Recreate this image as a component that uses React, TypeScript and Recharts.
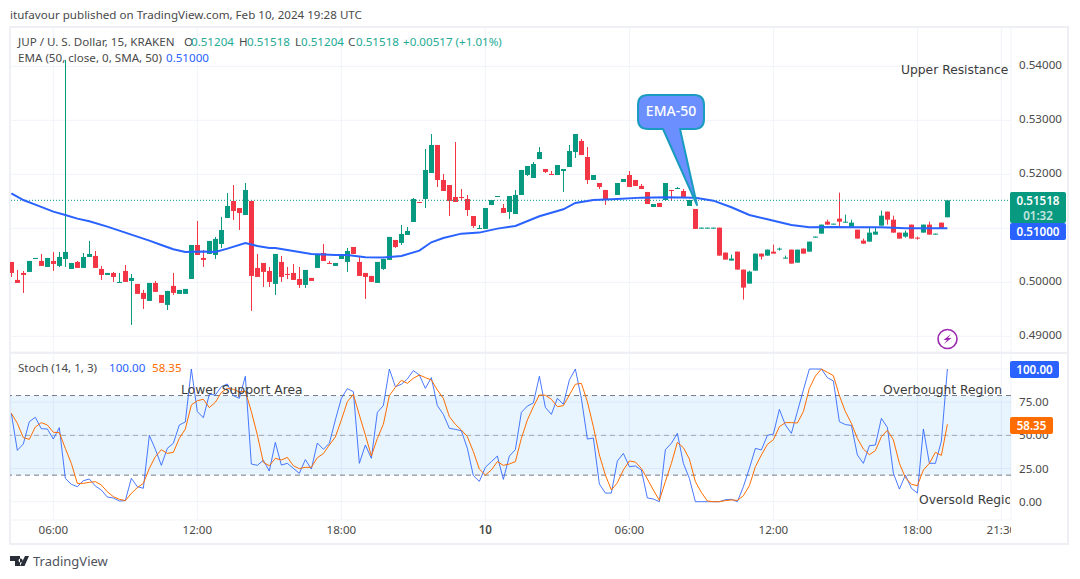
import { Bar, CartesianGrid, ComposedChart, Line, ReferenceArea, ReferenceLine, XAxis, YAxis } from 'recharts'

const FONT = '"Noto Sans", sans-serif'
const FONT_SIZE = 11.6
const UP = '#089981'
const DOWN = '#f23645'
const BLUE = '#2962ff'
const ORANGE = '#ff6d00'
const TEXT = '#4a4a4a'
const GRID = '#f0f3fa'

const opens = [
  0.50377, 0.50044, 0.50173, 0.50192, 0.50432, 0.50395, 0.50284, 0.50395, 0.50303, 0.50432,
  0.50247, 0.50377, 0.50266, 0.50469, 0.50488, 0.50247, 0.50136, 0.50173, 0.49988, 0.5021,
  0.50025, 0.4997, 0.49803, 0.49655, 0.49988, 0.49766, 0.49581, 0.49933, 0.49785, 0.49785,
  0.50062, 0.50691, 0.50451, 0.50525, 0.50506, 0.5071, 0.51191, 0.51506, 0.51376, 0.51247,
  0.51506, 0.50266, 0.50358, 0.5021, 0.4997, 0.50377, 0.50155, 0.50173, 0.50062, 0.49951,
  0.50081, 0.50266, 0.50543, 0.50358, 0.50303, 0.50432, 0.50377, 0.50654, 0.50377, 0.50173,
  0.50118, 0.49988, 0.50247, 0.50414, 0.50784, 0.50729, 0.50877, 0.51117, 0.51487, 0.51543,
  0.52024, 0.52543, 0.51895, 0.51802, 0.5158, 0.5158, 0.51543, 0.51228, 0.50988, 0.50988,
  0.51432, 0.5158, 0.51376, 0.51302, 0.51265, 0.51617, 0.51987, 0.51932, 0.52283, 0.52098,
  0.52006, 0.51987, 0.52061, 0.52135, 0.52413, 0.52617, 0.5232, 0.51895, 0.51839, 0.5171,
  0.51524, 0.51617, 0.51858, 0.51987, 0.51895, 0.51784, 0.51673, 0.51395, 0.51469, 0.51524,
  0.5171, 0.51728, 0.51691, 0.51413, 0.51358, 0.50994, 0.50994, 0.50994, 0.51012, 0.5055,
  0.50402, 0.50568, 0.50235, 0.49976, 0.50216, 0.50531, 0.50494, 0.50568, 0.50605, 0.50439,
  0.50605, 0.50364, 0.50624, 0.50568, 0.50827, 0.50901, 0.51123, 0.51068, 0.51179, 0.51105,
  0.51031, 0.50975, 0.50772, 0.50753, 0.50883, 0.51049, 0.51309, 0.5116, 0.5092, 0.50846,
  0.51068, 0.50827, 0.5092, 0.51068, 0.50883, 0.51105, 0.51204,
]

const highs = [
  0.50377, 0.50229, 0.5021, 0.50395, 0.50451, 0.50525, 0.50451, 0.50562, 0.50562, 0.54117,
  0.50358, 0.50395, 0.50543, 0.50766, 0.5058, 0.50303, 0.50173, 0.50192, 0.50173, 0.50321,
  0.50155, 0.4997, 0.49859, 0.49988, 0.50025, 0.49766, 0.4984, 0.50173, 0.49859, 0.49877,
  0.50691, 0.51136, 0.50599, 0.50766, 0.5084, 0.5121, 0.51654, 0.51802, 0.51376, 0.51839,
  0.51506, 0.50525, 0.50358, 0.50284, 0.50525, 0.50488, 0.50284, 0.5034, 0.50284, 0.50229,
  0.50081, 0.50525, 0.5071, 0.50395, 0.50358, 0.50506, 0.50636, 0.50654, 0.50488, 0.50173,
  0.50118, 0.50377, 0.50432, 0.5084, 0.50784, 0.51062, 0.51025, 0.51561, 0.51487, 0.52468,
  0.52746, 0.52543, 0.52006, 0.51802, 0.52598, 0.51728, 0.51617, 0.51228, 0.51062, 0.51376,
  0.51524, 0.51598, 0.5145, 0.51598, 0.5171, 0.5208, 0.52154, 0.52228, 0.52505, 0.52098,
  0.52061, 0.52172, 0.52098, 0.52543, 0.52746, 0.52654, 0.52505, 0.51987, 0.51839, 0.5171,
  0.51543, 0.51839, 0.51913, 0.52061, 0.51895, 0.51821, 0.51673, 0.5145, 0.51469, 0.51839,
  0.5171, 0.51765, 0.51728, 0.51524, 0.51358, 0.51012, 0.51012, 0.51012, 0.51012, 0.5055,
  0.50513, 0.50568, 0.50235, 0.50216, 0.50531, 0.50531, 0.50605, 0.50698, 0.50642, 0.50494,
  0.50605, 0.50605, 0.50624, 0.50753, 0.50846, 0.51068, 0.5116, 0.51086, 0.5166, 0.51253,
  0.5116, 0.50975, 0.50809, 0.51031, 0.51012, 0.51327, 0.51309, 0.51234, 0.5092, 0.50957,
  0.51068, 0.50846, 0.51068, 0.51123, 0.50901, 0.51105, 0.51518,
]

const lows = [
  0.50099, 0.49988, 0.49803, 0.50192, 0.50432, 0.50303, 0.50284, 0.5021, 0.50284, 0.50284,
  0.50247, 0.50266, 0.50266, 0.50469, 0.50266, 0.50044, 0.50136, 0.50007, 0.49988, 0.50007,
  0.49211, 0.49785, 0.49507, 0.49655, 0.49822, 0.49618, 0.49488, 0.49766, 0.49785, 0.49785,
  0.50062, 0.50506, 0.50284, 0.50525, 0.50432, 0.50636, 0.51191, 0.51154, 0.50969, 0.51247,
  0.4947, 0.50099, 0.49914, 0.49914, 0.49766, 0.50007, 0.50062, 0.50044, 0.49896, 0.49896,
  0.50025, 0.50266, 0.50395, 0.5034, 0.50303, 0.50432, 0.50192, 0.50525, 0.50118, 0.49692,
  0.50007, 0.49988, 0.50229, 0.50414, 0.50636, 0.50691, 0.50877, 0.51117, 0.51469, 0.51376,
  0.52024, 0.51765, 0.51691, 0.51228, 0.51487, 0.51506, 0.51228, 0.51006, 0.50988, 0.50988,
  0.51432, 0.5158, 0.51284, 0.51173, 0.51265, 0.51617, 0.51969, 0.51932, 0.52283, 0.52024,
  0.51987, 0.51987, 0.51673, 0.52135, 0.52302, 0.52357, 0.51821, 0.51895, 0.51728, 0.51432,
  0.51524, 0.51617, 0.51858, 0.51765, 0.51784, 0.51728, 0.5145, 0.51395, 0.51395, 0.51506,
  0.51506, 0.51728, 0.5158, 0.51413, 0.50988, 0.50994, 0.50994, 0.50994, 0.50494, 0.5042,
  0.50402, 0.50235, 0.4968, 0.49976, 0.50216, 0.5042, 0.50494, 0.50531, 0.50587, 0.50439,
  0.50346, 0.50364, 0.50531, 0.50568, 0.50827, 0.50901, 0.51068, 0.51068, 0.51012, 0.51105,
  0.51031, 0.50809, 0.50716, 0.50753, 0.50883, 0.51049, 0.51068, 0.5092, 0.50809, 0.50827,
  0.50809, 0.5079, 0.5092, 0.50883, 0.50883, 0.50994, 0.51204,
]

const closes = [
  0.50173, 0.49988, 0.50136, 0.50395, 0.50451, 0.50303, 0.50451, 0.5034, 0.50469, 0.50562,
  0.50358, 0.50266, 0.50469, 0.50525, 0.50266, 0.50136, 0.50173, 0.50099, 0.50007, 0.50007,
  0.50081, 0.49785, 0.49692, 0.49988, 0.49822, 0.49618, 0.4984, 0.49803, 0.49859, 0.49877,
  0.50691, 0.50506, 0.50414, 0.50766, 0.50803, 0.50969, 0.51413, 0.51321, 0.51284, 0.5171,
  0.50118, 0.50099, 0.50192, 0.50007, 0.50525, 0.50099, 0.50136, 0.50044, 0.49951, 0.50229,
  0.50025, 0.50525, 0.50395, 0.5034, 0.50358, 0.50506, 0.5058, 0.50525, 0.50118, 0.50099,
  0.50007, 0.50377, 0.50432, 0.5084, 0.50654, 0.50895, 0.50951, 0.51543, 0.51469, 0.5208,
  0.52543, 0.51895, 0.51691, 0.51506, 0.51487, 0.51561, 0.51339, 0.51043, 0.51006, 0.51376,
  0.51524, 0.51598, 0.51284, 0.51598, 0.51617, 0.5208, 0.52154, 0.52191, 0.52413, 0.52043,
  0.51987, 0.52172, 0.52098, 0.52431, 0.52746, 0.52357, 0.51895, 0.51987, 0.51765, 0.51524,
  0.51543, 0.51839, 0.51913, 0.51765, 0.51784, 0.51728, 0.5145, 0.5145, 0.51395, 0.51839,
  0.51691, 0.51747, 0.5158, 0.51524, 0.50988, 0.51012, 0.51012, 0.51012, 0.50494, 0.5042,
  0.50439, 0.50235, 0.49902, 0.50198, 0.50531, 0.50476, 0.50605, 0.50531, 0.50624, 0.50457,
  0.50346, 0.50605, 0.50531, 0.50753, 0.50846, 0.51068, 0.51068, 0.51086, 0.51123, 0.51123,
  0.51105, 0.50809, 0.50716, 0.5092, 0.50938, 0.51234, 0.5116, 0.5092, 0.50809, 0.5092,
  0.50809, 0.50809, 0.51068, 0.50883, 0.50901, 0.50994, 0.51518,
]

const emaCandles = [
  0, 2, 4, 7, 9, 11, 13, 16, 20, 23, 25, 27, 29, 32, 34, 36, 39, 41, 43, 44, 47, 50, 54, 56, 59, 62, 65, 68, 70, 72, 75,
  78, 81, 84, 88, 92, 94, 97, 101, 105, 109, 114, 117, 120, 123, 126, 130, 133, 137, 141, 145, 149, 153, 156,
]
const emaValues = [
  0.51648, 0.51524, 0.51438, 0.51309, 0.51247, 0.51179, 0.5113, 0.51031, 0.50883, 0.50772, 0.50691, 0.50611, 0.50562,
  0.50568, 0.50562, 0.50624, 0.50729, 0.50673, 0.50636, 0.50636, 0.5058, 0.50525, 0.50506, 0.50506, 0.50463, 0.50457,
  0.50488, 0.50587, 0.50741, 0.50821, 0.50901, 0.5092, 0.50994, 0.51043, 0.51222, 0.51352, 0.51469, 0.51524, 0.51543,
  0.51568, 0.51574, 0.51565, 0.51512, 0.51389, 0.51247, 0.51167, 0.51062, 0.51019, 0.51025, 0.51019, 0.51019, 0.51,
  0.51, 0.51,
]

const stochK = [
  66.6, 38.7, 43.5, 60.3, 63.6, 55, 54.8, 47.2, 55.8, 17.6, 13.1, 11.3, 15.8, 17.1, 11.8, 8.8, 3.5, 2.8, 0.5, 0.8,
  17.6, 11.3, 10.1, 50, 39.5, 27.4, 40.2, 44, 57.8, 60.1, 100, 67.9, 63.3, 80.9, 80.4, 86.7, 88.7, 79.9, 77.9, 94.5,
  28.4, 27.4, 31.2, 23.1, 44.7, 27.6, 28.9, 25.1, 21.4, 31.7, 24.6, 44.2, 39.5, 44, 61.6, 77.9, 85.2, 82.9, 28.9, 42.7,
  32.7, 67.3, 72.4, 100, 86.7, 88.5, 92.5, 98.8, 95.5, 85.4, 93.5, 72.4, 65.8, 55.3, 54.5, 53.5, 40.2, 19.6, 15.3, 25.9,
  30.2, 34.4, 16.8, 34.4, 39.2, 67.3, 72.1, 74.4, 94.5, 71.1, 65.8, 77.9, 73.4, 91.7, 100, 77.9, 47.2, 48, 13.3, 6.5,
  6.5, 30.7, 36.4, 26.4, 26.9, 23.9, 2.8, 2, 0, 39.2, 44, 51.5, 28.9, 17.6, 0, 0, 0, 0, 0, 1.5,
  1.8, 0, 11.3, 25.1, 40.2, 39, 50, 51, 69.6, 57.8, 51.5, 67.9, 84.2, 100, 100, 100, 93.5, 91, 60.3, 58.1,
  57.5, 35.2, 28.9, 42.2, 42.7, 62.8, 56, 21.4, 9.5, 20.1, 10.1, 6.5, 54.8, 28.9, 28.9, 45.7, 100,
]

const stochD = [
  66.6, 59.1, 48.3, 47, 56.3, 59.6, 57.8, 52.3, 52, 40.2, 28.9, 13.8, 13.8, 14.6, 15.1, 12.6, 7.5, 3.8, 1.8, 0.8,
  6.3, 10.6, 13.8, 25.1, 33.9, 39.2, 36.4, 37.2, 47.7, 54.8, 72.9, 76.1, 77.2, 70.9, 74.9, 82.4, 85.4, 84.7, 82.7, 83.4,
  67.9, 50.3, 29.7, 27.1, 32.7, 31.4, 33.4, 27.1, 24.9, 25.9, 25.9, 33.2, 36.2, 42.7, 48.8, 61.6, 75.4, 80.9, 65.3, 50.3,
  34.4, 47.7, 58.3, 79.9, 86.2, 91.5, 89.2, 93, 95.5, 93.5, 91.7, 84.2, 77.9, 64.1, 58.3, 54, 49, 37.7, 24.6, 20.1,
  23.9, 30.2, 27.4, 28.4, 30.2, 47.7, 61.6, 71.6, 80.4, 80.2, 77.2, 71.6, 72.4, 80.4, 88.5, 89.2, 75.4, 56.5, 35.2, 20.1,
  8.8, 14.3, 23.9, 30.7, 29.9, 25.1, 17.1, 8.8, 1, 15.1, 28.9, 44.7, 40.7, 32.2, 15.1, 7, 0.5, 0, 0, 0.8,
  1.3, 1, 4.5, 12.1, 26.4, 35.2, 43.2, 46.7, 56.5, 59.6, 59.6, 59.3, 67.9, 85.4, 94.7, 100, 97.5, 95, 79.9, 67.9,
  59.1, 47.7, 39.7, 35.4, 38.5, 49, 53.8, 46.5, 28.9, 18.1, 13.1, 12.1, 23.9, 28.9, 37.2, 34.9, 58.35,
]

const timeTicks = [7, 31, 55, 79, 103, 127, 151, 165]
const timeLabels = ['06:00', '12:00', '18:00', '10', '06:00', '12:00', '18:00', '21:30']
const priceTicks = [0.49, 0.5, 0.51, 0.52, 0.53, 0.54]
const stochTicks = [0, 25, 50, 75, 100]

const candles = opens.map((open, i) => ({
  i,
  open,
  high: highs[i],
  low: lows[i],
  close: closes[i],
  ema: emaCandles.includes(i) ? emaValues[emaCandles.indexOf(i)] : null,
}))
const stochRows = stochK.map((k, i) => ({ i, k, d: stochD[i] }))

const X_DOMAIN = [-0.22, 166.6]

// wick + body, the bar itself only spans low..high so the body is scaled off that
function Candle(props: any) {
  const { x, y, width, height, payload } = props
  const perUnit = height / (payload.high - payload.low)
  const up = payload.close >= payload.open
  const top = y + (payload.high - Math.max(payload.open, payload.close)) * perUnit
  const bodyH = Math.max(1, Math.abs(payload.close - payload.open) * perUnit)
  const cx = Math.floor(x + width / 2)
  const color = up ? UP : DOWN
  return (
    <g>
      <rect x={cx} y={y} width={1} height={height} fill={color} />
      <rect x={cx - 2} y={top} width={5} height={bodyH} fill={color} />
    </g>
  )
}

function TimeTick(props: any) {
  const { x, y, payload } = props
  const label = timeLabels[timeTicks.indexOf(payload.value)]
  return (
    <text
      x={x}
      y={y + 6}
      textAnchor="middle"
      fontSize={FONT_SIZE}
      fontFamily={FONT}
      fontWeight={label === '10' ? 600 : 400}
      fill={TEXT}
    >
      {label}
    </text>
  )
}

const note = (left: number, top: number, width: number, label: string) => (
  <div
    style={{
      position: 'absolute',
      left,
      top,
      width,
      height: 18,
      overflow: 'hidden',
      whiteSpace: 'nowrap',
      fontFamily: '"DejaVu Sans", sans-serif',
      fontSize: 12.3,
      lineHeight: '18px',
      color: '#3c3c3c',
    }}
  >
    {label}
  </div>
)

const badge = (left: number, top: number, width: number, height: number, color: string, lines: string[]) => (
  <div
    style={{
      position: 'absolute',
      left,
      top,
      width,
      height,
      background: color,
      borderRadius: 2,
      color: '#fff',
      fontFamily: FONT,
      fontSize: FONT_SIZE,
      fontWeight: 600,
      textAlign: 'center',
      lineHeight: '15px',
      paddingTop: 1,
      boxSizing: 'border-box',
    }}
  >
    {lines.map((t, n) => (
      <div key={t} style={{ opacity: n ? 0.75 : 1 }}>
        {t}
      </div>
    ))}
  </div>
)

const textAt = (left: number, top: number, color: string, label: string) => (
  <div
    style={{
      position: 'absolute',
      left,
      top,
      whiteSpace: 'nowrap',
      fontFamily: FONT,
      fontSize: FONT_SIZE,
      lineHeight: '16px',
      color,
    }}
  >
    {label}
  </div>
)

export default function App() {
  return (
    <div style={{ position: 'absolute', left: 0, top: 0, width: 1080, height: 579, background: '#fff', overflow: 'hidden' }}>
      {textAt(10, 7, TEXT, 'itufavour published on TradingView.com, Feb 10, 2024 19:28 UTC')}

      <div style={{ position: 'absolute', left: 9, top: 26, width: 1060, height: 519, border: '2px solid #eeeff5', boxSizing: 'border-box' }} />

      <div style={{ position: 'absolute', left: 10, top: 27 }}>
        <ComposedChart width={1058} height={325} data={candles} margin={{ top: 0, right: 0, bottom: 0, left: 0 }}>
          <CartesianGrid stroke={GRID} />
          <XAxis type="number" dataKey="i" domain={X_DOMAIN} ticks={timeTicks} hide allowDataOverflow />
          <YAxis
            orientation="right"
            width={57}
            domain={[0.48709, 0.54728]}
            ticks={priceTicks}
            allowDataOverflow
            tickFormatter={(v: number) => v.toFixed(5)}
            tick={{ fontSize: FONT_SIZE, fontFamily: FONT, fill: TEXT, dy: -1 }}
            tickLine={false}
            axisLine={false}
          />
          <ReferenceLine y={0.51518} stroke={UP} strokeDasharray="1 2" />
          <Bar dataKey={(d: any) => [d.low, d.high]} barSize={5} shape={<Candle />} isAnimationActive={false} />
          <Line dataKey="ema" stroke={BLUE} strokeWidth={2} dot={false} connectNulls isAnimationActive={false} />
        </ComposedChart>
      </div>

      <div style={{ position: 'absolute', left: 10, top: 352, width: 1058, height: 2, background: '#eeeff5' }} />

      <div style={{ position: 'absolute', left: 10, top: 353 }}>
        <ComposedChart width={1058} height={190} data={stochRows} margin={{ top: 0, right: 0, bottom: 0, left: 0 }}>
          <CartesianGrid stroke={GRID} />
          <XAxis
            type="number"
            dataKey="i"
            domain={X_DOMAIN}
            ticks={timeTicks}
            height={23}
            allowDataOverflow
            tick={<TimeTick />}
            tickLine={false}
            axisLine={false}
            interval={0}
          />
          <YAxis
            orientation="right"
            width={57}
            domain={[-13.8, 112.06]}
            ticks={stochTicks}
            allowDataOverflow
            tickFormatter={(v: number) => v.toFixed(2)}
            tick={{ fontSize: FONT_SIZE, fontFamily: FONT, fill: TEXT }}
            tickLine={false}
            axisLine={false}
          />
          <ReferenceArea y1={20} y2={80} fill="#2196f3" fillOpacity={0.1} stroke="none" />
          <ReferenceLine y={80} stroke="#787b86" strokeDasharray="5 4" />
          <ReferenceLine y={50} stroke="#787b86" strokeOpacity={0.6} strokeDasharray="5 4" />
          <ReferenceLine y={20} stroke="#787b86" strokeDasharray="5 4" />
          <Line dataKey="k" stroke={BLUE} strokeWidth={1} strokeOpacity={0.85} dot={false} isAnimationActive={false} />
          <Line dataKey="d" stroke={ORANGE} strokeWidth={1} dot={false} isAnimationActive={false} />
        </ComposedChart>
      </div>

      {/* the time axis stops at the price scale, 21:30 gets cut there */}
      <div style={{ position: 'absolute', left: 1011, top: 522, width: 56, height: 20, background: '#fff' }} />

      <div style={{ position: 'absolute', left: 18, top: 34, whiteSpace: 'nowrap', fontFamily: FONT, fontSize: FONT_SIZE, lineHeight: '16px', color: TEXT }}>
        JUP / U. S. Dollar, 15, KRAKEN
      </div>
      {textAt(184, 34, TEXT, 'O')}
      {textAt(191, 34, '#22ab94', '0.51204')}
      {textAt(239, 34, TEXT, 'H')}
      {textAt(247, 34, '#22ab94', '0.51518')}
      {textAt(295, 34, TEXT, 'L')}
      {textAt(301, 34, '#22ab94', '0.51204')}
      {textAt(348, 34, TEXT, 'C')}
      {textAt(356, 34, '#22ab94', '0.51518')}
      {textAt(403, 34, '#22ab94', '+0.00517 (+1.01%)')}
      {textAt(18, 50, TEXT, 'EMA (50, close, 0, SMA, 50)')}
      {textAt(166, 50, BLUE, '0.51000')}
      {textAt(18, 360, TEXT, 'Stoch (14, 1, 3)')}
      {textAt(109, 360, BLUE, '100.00')}
      {textAt(152, 360, ORANGE, '58.35')}

      {note(901, 61, 110, 'Upper Resistance')}
      {note(181, 381, 130, 'Lower Support Area')}
      {note(883, 381, 125, 'Overbought Region')}
      {note(919, 491, 91, 'Oversold Region')}

      {badge(1010, 192, 56, 31, UP, ['0.51518', '01:32'])}
      {badge(1010, 223, 56, 17, BLUE, ['0.51000'])}
      {badge(1010, 361, 49, 17, BLUE, ['100.00'])}
      {badge(1010, 417, 43, 17, ORANGE, ['58.35'])}

      <svg width={1080} height={579} style={{ position: 'absolute', left: 0, top: 0, pointerEvents: 'none' }}>
        <path
          d="M648 95 H694 Q704 95 704 105 V119 Q704 129 694 129 H680 L697 205 L663 129 H648 Q638 129 638 119 V105 Q638 95 648 95 Z"
          fill="#6b8fff"
          stroke="#1a9bc0"
          strokeWidth={2}
          strokeLinejoin="round"
        />
        <text x={671} y={116} textAnchor="middle" fontSize={14} fontWeight={500} fontFamily={FONT} fill="#fff">
          EMA-50
        </text>
        <circle cx={947.5} cy={339} r={9.5} fill="#fff" stroke="#9c27b0" strokeWidth={1.6} />
        <path d="M951 334 L943.5 340 H947 L944 344 L951.5 338 H948 Z" fill="#9c27b0" />
        <path d="M10 556 H20 V566 H15 V561 H10 Z M20 566 L25 556 H29 L24.5 566 Z M20.5 558.5 a2 2 0 1 0 0.1 0 Z" fill="#2a2e39" />
        <text x={33} y={566} fontSize={13} fontFamily={FONT} fill="#50535e">
          TradingView
        </text>
      </svg>
    </div>
  )
}
